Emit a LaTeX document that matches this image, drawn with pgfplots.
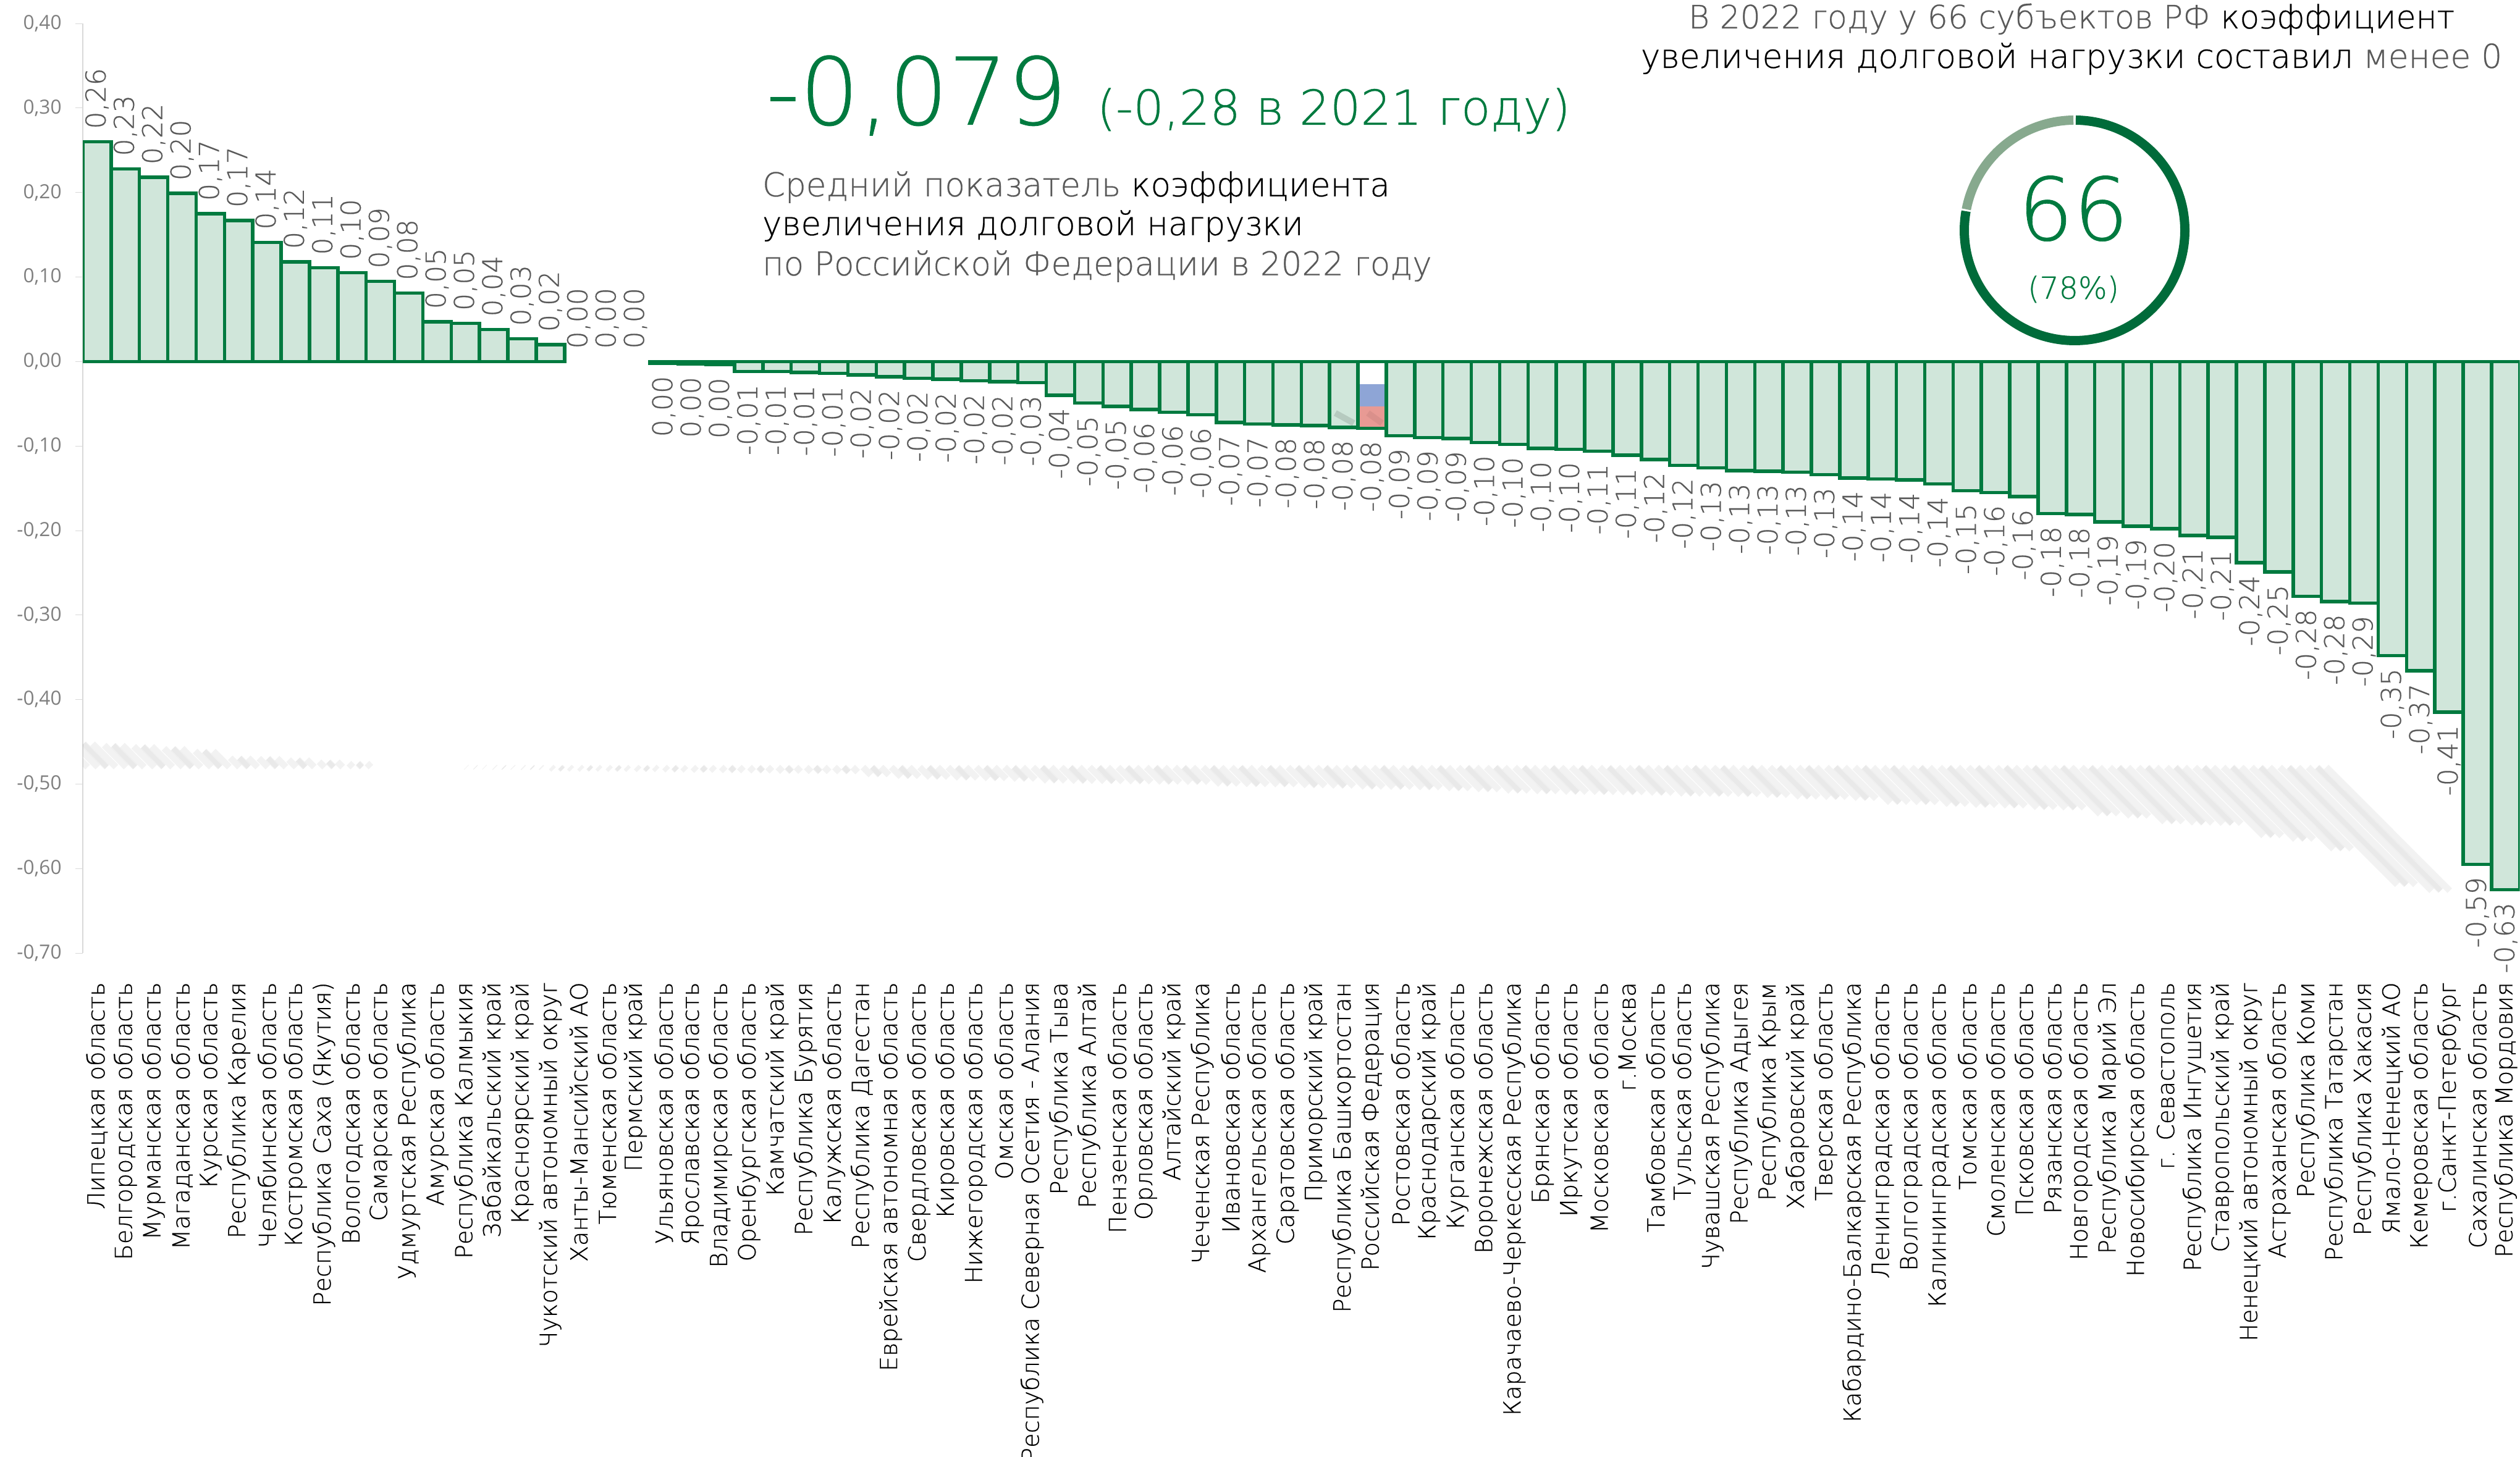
\documentclass[border=0pt]{standalone}
\usepackage{fontspec}
\setmainfont{DejaVu Sans}
\newfontfamily\bodyfont[FakeBold=0.5]{DejaVu Sans ExtraLight}
\newfontfamily\tickfont{Open Sans}
\usepackage{pgfplots}
\usepackage{pgfplotstable}
\pgfplotsset{compat=1.18}

\definecolor{barline}{HTML}{007A3F}
\definecolor{barfill}{HTML}{D0E6DA}
\definecolor{labgray}{HTML}{595959}
\definecolor{tickgray}{HTML}{808080}
\definecolor{ringdark}{HTML}{006B3A}
\definecolor{ringlight}{HTML}{87A98E}
\definecolor{flagblue}{HTML}{8EA5D6}
\definecolor{flagred}{HTML}{E89A94}

\pgfplotstableread{
x y lab
1 0.260 0,26
2 0.228 0,23
3 0.218 0,22
4 0.199 0,20
5 0.175 0,17
6 0.167 0,17
7 0.141 0,14
8 0.118 0,12
9 0.111 0,11
10 0.105 0,10
11 0.095 0,09
12 0.081 0,08
13 0.047 0,05
14 0.045 0,05
15 0.038 0,04
16 0.027 0,03
17 0.020 0,02
}\tabpos

\pgfplotstableread{
x y lab
18 0 0,00
19 0 0,00
20 0 0,00
}\tabzero

\pgfplotstableread{
x y lab
21 -0.002 0,00
22 -0.003 0,00
23 -0.004 0,00
24 -0.012 -0,01
25 -0.012 -0,01
26 -0.013 -0,01
27 -0.014 -0,01
28 -0.016 -0,02
29 -0.018 -0,02
30 -0.020 -0,02
31 -0.021 -0,02
32 -0.023 -0,02
33 -0.024 -0,02
34 -0.025 -0,03
35 -0.040 -0,04
36 -0.049 -0,05
37 -0.053 -0,05
38 -0.057 -0,06
39 -0.060 -0,06
40 -0.063 -0,06
41 -0.072 -0,07
42 -0.074 -0,07
43 -0.075 -0,08
44 -0.076 -0,08
45 -0.078 -0,08
46 -0.079 -0,08
47 -0.088 -0,09
48 -0.090 -0,09
49 -0.091 -0,09
50 -0.096 -0,10
51 -0.098 -0,10
52 -0.103 -0,10
53 -0.104 -0,10
54 -0.106 -0,11
55 -0.111 -0,11
56 -0.116 -0,12
57 -0.123 -0,12
58 -0.126 -0,13
59 -0.129 -0,13
60 -0.130 -0,13
61 -0.131 -0,13
62 -0.134 -0,13
63 -0.138 -0,14
64 -0.139 -0,14
65 -0.140 -0,14
66 -0.145 -0,14
67 -0.153 -0,15
68 -0.155 -0,16
69 -0.160 -0,16
70 -0.180 -0,18
71 -0.181 -0,18
72 -0.190 -0,19
73 -0.195 -0,19
74 -0.198 -0,20
75 -0.206 -0,21
76 -0.208 -0,21
77 -0.238 -0,24
78 -0.249 -0,25
79 -0.278 -0,28
80 -0.284 -0,28
81 -0.286 -0,29
82 -0.348 -0,35
83 -0.366 -0,37
84 -0.415 -0,41
85 -0.595 -0,59
86 -0.625 -0,63
}\tabneg

\pgfplotsset{
  barlabels/.style={
    point meta=explicit symbolic,
    nodes near coords={\pgfplotspointmeta},
    nodes near coords style={rotate=90, font=\bodyfont\fontsize{12.6}{14}\selectfont, text=labgray, inner sep=0pt},
  },
  onebar/.style={ybar, bar width=0.4587cm, bar shift=0pt},
  shade/.style={draw=black, mark=none, quiver={u=-6.97*\thisrow{y}, v=0.234*\thisrow{y}}},
}

\begin{document}
\begin{tikzpicture}
\useasboundingbox (0,0) rectangle (40.79,23.59);
\begin{axis}[
    at={(1.34cm,8.16cm)}, anchor=south west,
    scale only axis,
    width=39.45cm, height=15.05cm,
    xmin=0.5, xmax=86.5,
    ymin=-0.7, ymax=0.4,
    axis y line*=left,
    axis x line*=bottom,
    x axis line style={draw=none},
    y axis line style={draw=black!15, -},
    xtick={1,...,86},
    xticklabels={Липецкая область, Белгородская область, Мурманская область, Магаданская область, Курская область, Республика Карелия, Челябинская область, Костромская область, Республика Саха (Якутия), Вологодская область, Самарская область, Удмуртская Республика, Амурская область, Республика Калмыкия, Забайкальский край, Красноярский край, Чукотский автономный округ, Ханты-Мансийский АО, Тюменская область, Пермский край, Ульяновская область, Ярославская область, Владимирская область, Оренбургская область, Камчатский край, Республика Бурятия, Калужская область, Республика Дагестан, Еврейская автономная область, Свердловская область, Кировская область, Нижегородская область, Омская область, Республика Северная Осетия - Алания, Республика Тыва, Республика Алтай, Пензенская область, Орловская область, Алтайский край, Чеченская Республика, Ивановская область, Архангельская область, Саратовская область, Приморский край, Республика Башкортостан, Российская Федерация, Ростовская область, Краснодарский край, Курганская область, Воронежская область, Карачаево-Черкесская Республика, Брянская область, Иркутская область, Московская область, г.Москва, Тамбовская область, Тульская область, Чувашская Республика, Республика Адыгея, Республика Крым, Хабаровский край, Тверская область, Кабардино-Балкарская Республика, Ленинградская область, Волгоградская область, Калининградская область, Томская область, Смоленская область, Псковская область, Рязанская область, Новгородская область, Республика Марий Эл, Новосибирская область, г. Севастополь, Республика Ингушетия, Ставропольский край, Ненецкий автономный округ, Астраханская область, Республика Коми, Республика Татарстан, Республика Хакасия, Ямало-Ненецкий АО, Кемеровская область, г.Санкт-Петербург, Сахалинская область, Республика Мордовия},
    xticklabel style={rotate=90, anchor=east, font=\bodyfont\fontsize{10.85}{13}\selectfont, text=black, xshift=-0.23cm},
    xtick style={draw=none},
    ytick={-0.7,-0.6,-0.5,-0.4,-0.3,-0.2,-0.1,0,0.1,0.2,0.3,0.4},
    yticklabels={{-0,70},{-0,60},{-0,50},{-0,40},{-0,30},{-0,20},{-0,10},{0,00},{0,10},{0,20},{0,30},{0,40}},
    yticklabel style={font=\tickfont\fontsize{9}{11}\selectfont, text=tickgray, xshift=-0.1cm},
    ytick style={draw=black!15},
    tick align=outside,
    major tick length=0.12cm,
]
% bars, above and below zero
\addplot[onebar, barlabels, draw=barline, fill=barfill, line width=0.055cm,
    every node near coord/.append style={anchor=west, xshift=0.18cm}]
    table[x=x, y=y, meta=lab] {\tabpos};
\addplot[onebar, barlabels, draw=barline, fill=barfill, line width=0.055cm,
    every node near coord/.append style={anchor=east, xshift=-0.18cm}]
    table[x=x, y=y, meta=lab] {\tabneg};
% three regions with a zero value: label only
\addplot[barlabels, only marks, mark=none, draw=none,
    every node near coord/.append style={anchor=west, xshift=0.2cm}]
    table[x=x, y=y, meta=lab] {\tabzero};

% the bar of the Russian Federation is filled with the flag
\addplot[onebar, draw=none, fill=flagred] coordinates {(46,-0.079)};
\addplot[onebar, draw=none, fill=flagblue] coordinates {(46,-0.053)};
\addplot[onebar, draw=none, fill=white] coordinates {(46,-0.027)};
\addplot[onebar, draw=barline, fill=none, line width=0.055cm] coordinates {(46,-0.079)};

% small smudge at the foot of these two bars
\addplot[draw=black, opacity=0.12, line width=0.1cm, mark=none] coordinates {(44.7,-0.061) (45.35,-0.073)};
\addplot[draw=black, opacity=0.06, line width=0.1cm, mark=none] coordinates {(45.85,-0.061) (46.35,-0.073)};

% faint shadow of the bars, sheared and thrown to the lower left
\pgfplotsinvokeforeach{-0.32,0,0.32}{
  \addplot[shade, opacity=0.05, line width=0.105cm]
      table[x expr=\thisrow{x}-6.65+#1, y expr=-0.48] {\tabpos};
  \addplot[shade, opacity=0.05, line width=0.105cm]
      table[x expr=\thisrow{x}-6.65+#1, y expr=-0.48] {\tabneg};
}
\addplot[shade, opacity=0.04, line width=0.08cm]
    table[x expr=\thisrow{x}-6.65, y expr=-0.48] {\tabpos};
\addplot[shade, opacity=0.04, line width=0.08cm]
    table[x expr=\thisrow{x}-6.65, y expr=-0.48] {\tabneg};
\end{axis}

% ring: 66 of 85 regions, 78%
\draw[ringlight, line width=0.15cm] ([shift=(169:1.785)]33.58,19.86) arc (169:90.6:1.785);
\draw[ringdark, line width=0.15cm] ([shift=(89.4:1.785)]33.58,19.86) arc (89.4:-190:1.785);

% texts, placed in pixels of the reference
\begin{scope}[shift={(0,23.59)}, x=0.01cm, y=-0.01cm]
\node[anchor=base west, inner sep=0pt, text=barline, font=\bodyfont\fontsize{43}{50}\selectfont] at (1240,202) {-0,079};
\node[anchor=base west, inner sep=0pt, text=barline, font=\bodyfont\fontsize{22.2}{28}\selectfont] at (1776,202) {(-0,28 в 2021 году)};
\node[anchor=base west, inner sep=0pt, font=\bodyfont\fontsize{15.1}{18}\selectfont] at (1234,318) {\textcolor{labgray}{Средний показатель} коэффициента};
\node[anchor=base west, inner sep=0pt, font=\bodyfont\fontsize{15.1}{18}\selectfont] at (1234,381) {увеличения долговой нагрузки};
\node[anchor=base west, inner sep=0pt, text=labgray, font=\bodyfont\fontsize{15.1}{18}\selectfont] at (1234,446) {по Российской Федерации в 2022 году};
\node[anchor=base, inner sep=0pt, font=\bodyfont\fontsize{14.8}{18}\selectfont] at (3355,46) {\textcolor{labgray}{В 2022 году у 66 субъектов РФ} коэффициент};
\node[anchor=base, inner sep=0pt, font=\bodyfont\fontsize{15.2}{18}\selectfont] at (3355,110) {увеличения долговой нагрузки составил \textcolor{labgray}{менее 0}};
\node[anchor=base, inner sep=0pt, text=barline, font=\bodyfont\fontsize{40}{46}\selectfont] at (3358,389) {66};
\node[anchor=base, inner sep=0pt, text=barline, font=\bodyfont\fontsize{14}{17}\selectfont] at (3358,484) {(78\%)};
\end{scope}
\end{tikzpicture}
\end{document}
